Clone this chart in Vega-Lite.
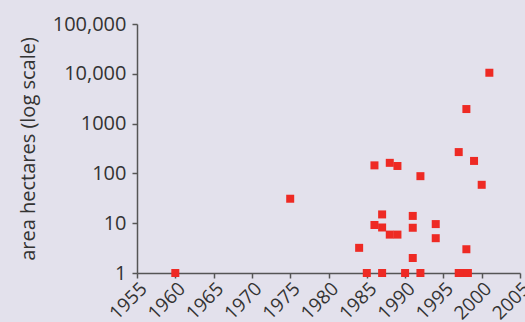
{
  "$schema": "https://vega.github.io/schema/vega-lite/v6.json",
  "autosize": "none",
  "width": 383,
  "height": 249,
  "padding": {"left": 137, "top": 24, "right": 5, "bottom": 49},
  "background": "#e3e1ec",
  "config": {
    "view": {"stroke": null},
    "axis": {"grid": false, "domainColor": "#555555", "tickColor": "#555555", "domainWidth": 1.5, "tickWidth": 1.5, "tickSize": 5, "labelColor": "#333333", "titleColor": "#333333", "labelFont": "Open Sans", "titleFont": "Open Sans", "labelFontSize": 20, "titleFontSize": 20, "titleFontWeight": "normal"}
  },
  "data": {
    "values": [
      {"year": 1960, "area": 1},
      {"year": 1975, "area": 31},
      {"year": 1984, "area": 3.2},
      {"year": 1985, "area": 1},
      {"year": 1986, "area": 145},
      {"year": 1986, "area": 9.2},
      {"year": 1987, "area": 15},
      {"year": 1987, "area": 8.2},
      {"year": 1987, "area": 1},
      {"year": 1988, "area": 163},
      {"year": 1988, "area": 5.9},
      {"year": 1989, "area": 141},
      {"year": 1989, "area": 5.9},
      {"year": 1990, "area": 1},
      {"year": 1991, "area": 14},
      {"year": 1991, "area": 8.1},
      {"year": 1991, "area": 2},
      {"year": 1992, "area": 88},
      {"year": 1992, "area": 1},
      {"year": 1994, "area": 9.6},
      {"year": 1994, "area": 5},
      {"year": 1997, "area": 268},
      {"year": 1997, "area": 1},
      {"year": 1997.6, "area": 1},
      {"year": 1998.2, "area": 1},
      {"year": 1998, "area": 3},
      {"year": 1998, "area": 1960},
      {"year": 1999, "area": 178},
      {"year": 2000, "area": 59},
      {"year": 2001, "area": 10500}
    ]
  },
  "mark": {"type": "square", "size": 64, "color": "#ee2a24", "opacity": 1},
  "encoding": {
    "x": {
      "field": "year", "type": "quantitative",
      "scale": {"domain": [1955, 2005], "nice": false, "zero": false},
      "axis": {"title": null, "values": [1955, 1960, 1965, 1970, 1975, 1980, 1985, 1990, 1995, 2000, 2005], "format": "d", "labelAngle": -45, "labelAlign": "right", "labelBaseline": "top", "labelOverlap": false, "labelPadding": 1, "labelFontSize": 19}
    },
    "y": {
      "field": "area", "type": "quantitative",
      "scale": {"type": "log", "domain": [1, 100000], "nice": false},
      "axis": {"title": "area hectares (log scale)", "values": [1, 10, 100, 1000, 10000, 100000], "labelExpr": "datum.value >= 10000 ? format(datum.value, ',') : format(datum.value, 'd')", "titlePadding": 14, "labelPadding": 6}
    }
  }
}
